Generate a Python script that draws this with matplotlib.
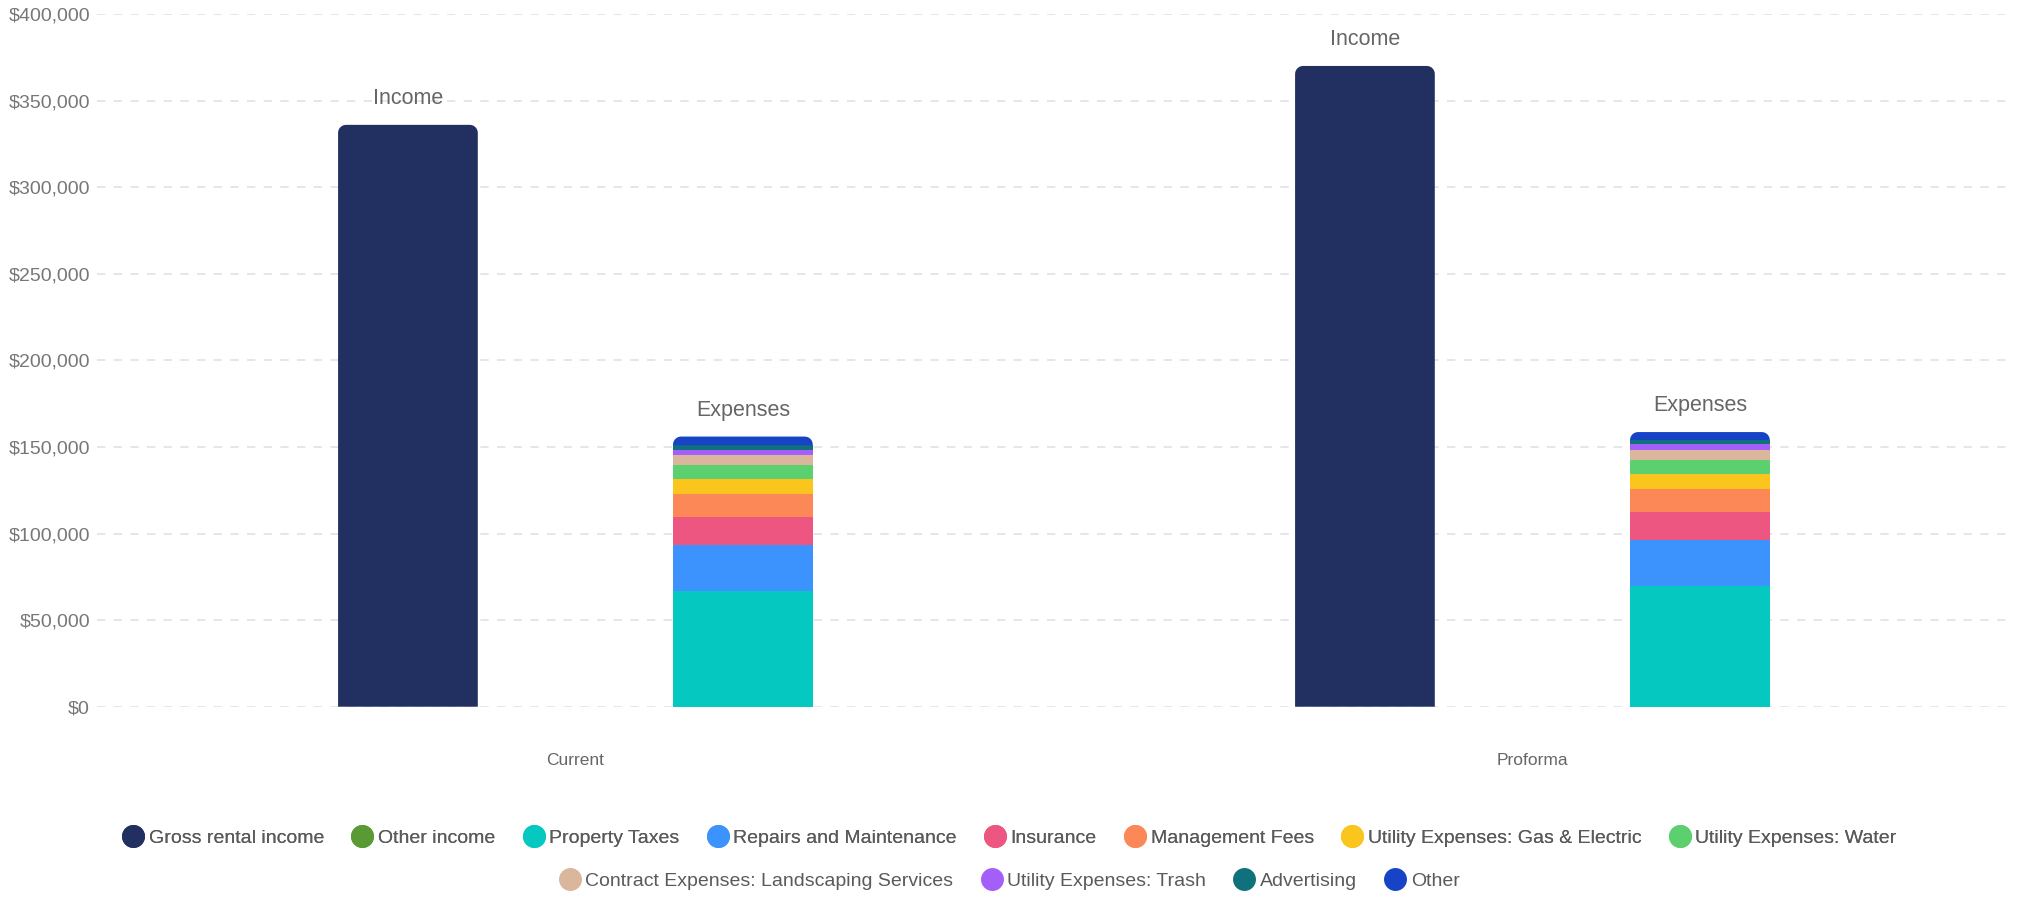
import matplotlib
matplotlib.use("Agg")
import matplotlib.pyplot as plt
from matplotlib.patches import PathPatch
from matplotlib.path import Path
from matplotlib.lines import Line2D
from matplotlib.ticker import FuncFormatter
import numpy as np

plt.rcParams["font.family"] = ["Liberation Sans", "DejaVu Sans"]

categories = ["Current", "Proforma"]

# income side
income_names = ["Gross rental income", "Other income"]
gross_rental_income = [336000, 370000]
other_income = [0, 0]

# expense side, bottom to top
expense_names = [
    "Property Taxes",
    "Repairs and Maintenance",
    "Insurance",
    "Management Fees",
    "Utility Expenses: Gas & Electric",
    "Utility Expenses: Water",
    "Contract Expenses: Landscaping Services",
    "Utility Expenses: Trash",
    "Advertising",
    "Other",
]
property_taxes = [67000, 70000]
repairs_maintenance = [26200, 26200]
insurance = [16300, 16200]
management_fees = [13300, 13100]
gas_electric = [8700, 9000]
water = [7900, 7700]
landscaping = [6000, 6000]
trash = [2900, 3300]
advertising = [2700, 2500]
other = [5000, 4600]

income_colors = ["#213060", "#5a9a35"]
expense_colors = ["#05c8c0", "#3d93fd", "#ed5680", "#fd8857", "#fac51c",
                  "#5ccf6f", "#d9b69c", "#a45ffa", "#0f717b", "#1743c6"]

income_series = [gross_rental_income, other_income]
expense_series = [property_taxes, repairs_maintenance, insurance, management_fees,
                  gas_electric, water, landscaping, trash, advertising, other]

fig = plt.figure(figsize=(20.19, 8.98), dpi=100)
ax = fig.add_axes([0.048, 0.213, 0.948, 0.7714])

x = np.arange(len(categories))
width = 0.146
offset = 0.175


def stack(xpos, series, colors):
    bottom = np.zeros(len(categories))
    segs = []
    for vals, col in zip(series, colors):
        bars = ax.bar(xpos, vals, width, bottom=bottom, color=col, linewidth=0, zorder=3)
        bottom = bottom + np.array(vals)
        segs.append(bars)
    return bottom, segs


def top_rounded_path(x0, y0, w, h, rx, ry):
    ry = min(ry, h)
    t = np.linspace(0, np.pi / 2, 10)
    verts = [(x0, y0), (x0 + w, y0)]
    # right top corner
    verts += [(x0 + w - rx + rx * np.cos(a), y0 + h - ry + ry * np.sin(a)) for a in t]
    # left top corner
    verts += [(x0 + rx - rx * np.cos(a), y0 + h - ry + ry * np.sin(a)) for a in t[::-1]]
    verts.append((x0, y0))
    codes = [Path.MOVETO] + [Path.LINETO] * (len(verts) - 2) + [Path.CLOSEPOLY]
    return Path(verts, codes)


def round_top(segs):
    # swap the top segment of each stack for one with rounded top corners
    rx = 8 / 957.0
    ry = 8 * 400000 / 692.7
    for i in range(len(categories)):
        top_bar = None
        for bars in reversed(segs):
            if bars[i].get_height() > 0:
                top_bar = bars[i]
                break
        col = top_bar.get_facecolor()
        path = top_rounded_path(top_bar.get_x(), top_bar.get_y(),
                                top_bar.get_width(), top_bar.get_height(), rx, ry)
        top_bar.set_visible(False)
        ax.add_patch(PathPatch(path, fc=col, ec="none", lw=0, zorder=3))


inc_tot, inc_segs = stack(x - offset, income_series, income_colors)
exp_tot, exp_segs = stack(x + offset, expense_series, expense_colors)
round_top(inc_segs)
round_top(exp_segs)

for i in range(len(categories)):
    ax.annotate("Income", (x[i] - offset, inc_tot[i]), xytext=(0, 19), textcoords="offset points",
                ha="center", va="center", fontsize=15.5, color="#666666")
    ax.annotate("Expenses", (x[i] + offset, exp_tot[i]), xytext=(0, 19), textcoords="offset points",
                ha="center", va="center", fontsize=15.5, color="#666666")

ax.set_xlim(-0.5, 1.5)
ax.set_ylim(0, 400000)
ax.set_yticks(np.arange(0, 400001, 50000))
ax.yaxis.set_major_formatter(FuncFormatter(lambda v, p: f"${v:,.0f}"))
ax.set_xticks(x)
ax.set_xticklabels(categories)
ax.tick_params(axis="y", length=0, pad=5, labelsize=14, labelcolor="#777777")
ax.tick_params(axis="x", length=0, pad=33, labelsize=12.5, labelcolor="#666666")
ax.grid(axis="y", color="#e2e2e2", linewidth=1.2, linestyle=(0, (5, 5)), zorder=0)
for s in ax.spines.values():
    s.set_visible(False)

all_names = income_names + expense_names
all_colors = income_colors + expense_colors
handles = [Line2D([], [], marker="o", linestyle="none", markersize=15.5,
                  markerfacecolor=c, markeredgecolor=c) for c in all_colors]

leg_kw = dict(frameon=False, fontsize=14, handlelength=1.1, handletextpad=0.25,
              columnspacing=1.42, labelcolor="#5a5a5a", loc="center")
leg1 = fig.legend(handles[:8], all_names[:8], ncol=8, bbox_to_anchor=(0.5, 1 - 838 / 898), **leg_kw)
fig.add_artist(leg1)
fig.legend(handles[8:], all_names[8:], ncol=4, bbox_to_anchor=(0.5, 1 - 881 / 898), **leg_kw)

fig.savefig("out.png", dpi=100)
